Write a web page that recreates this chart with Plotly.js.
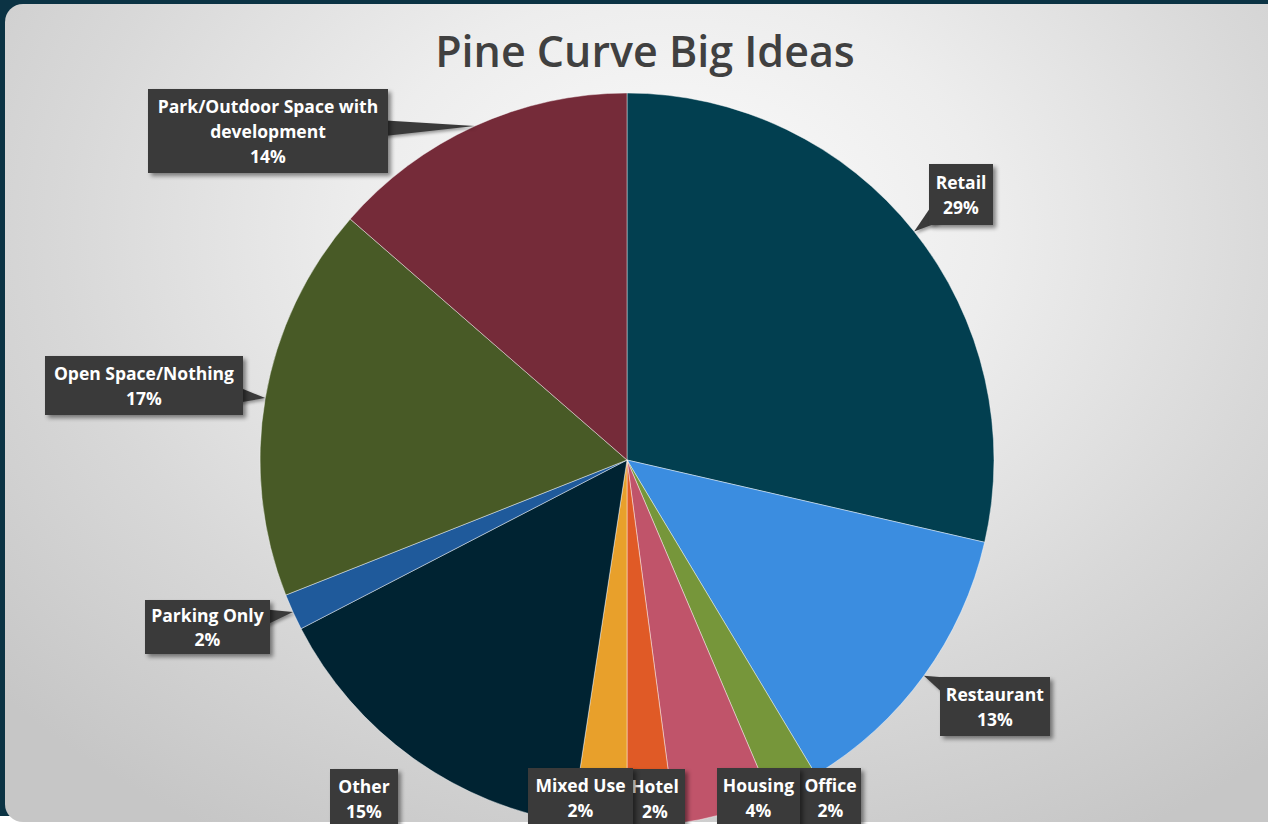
<!DOCTYPE html>
<html><head><meta charset="utf-8">
<script src="https://cdn.plot.ly/plotly-3.0.1.min.js"></script>
<style>
html,body{margin:0;padding:0;width:1268px;height:824px;overflow:hidden;background:#ffffff;}
#frame{position:absolute;left:0;top:0;width:1268px;height:816px;background:#0b3344;}
#panel{position:absolute;left:5px;top:4px;width:1290px;height:818px;border-radius:18px;
  background:radial-gradient(ellipse 70% 85% at 52% 28%, #fcfcfc 0%, #ededed 35%, #d8d8d8 68%, #c6c6c6 100%);}
#chart{position:absolute;left:0;top:0;width:1268px;height:827px;}
.annotation-text-g rect.bg{filter:drop-shadow(3px 3px 2px rgba(0,0,0,0.45));}
.shapelayer path{filter:drop-shadow(2px 2px 1.5px rgba(0,0,0,0.35));}
</style></head>
<body>
<div id="frame"></div>
<div id="panel"></div>
<div id="chart"></div>
<script>
// ---- data ----
const categories = ['Retail','Restaurant','Office','Housing','Hotel','Mixed Use','Other','Parking Only','Open Space/Nothing','Park/Outdoor Space with development'];
const shares = [28.6, 12.8, 2.2, 4.3, 2.1, 2.4, 15.0, 1.6, 17.4, 13.6];
const sliceColors = ['#023f50','#3b8de0','#76963a','#c0546a','#e05a26','#e8a02b','#002332','#1f5a9b','#485a26','#752b39'];

// ---- label layout (px offsets of box centre from slice edge midpoint) ----
const labelDX = [47, 71, 37, 35, 4, -19, -49, -85, -121, -207];
const labelDY = [-37, 31, 11, -16, -28, -28, 40, 15, -13, 5];
const boxW = [64, 110, 61, 83, 60, 105, 68, 125, 198, 240];
const boxH = [61, 59, 59, 59, 59, 59, 59, 54, 59, 84];
const withTail = [true, true, false, false, false, false, false, true, true, true];
const tailHalfWidth = 8;

const W = 1268, H = 827;
const M = {l: 0, r: 14, t: 93, b: 0};
const plotW = W - M.l - M.r, plotH = H - M.t - M.b;
const R = Math.min(plotW, plotH) / 2;
const CX = M.l + plotW / 2, CY = M.t + plotH / 2;
const toPX = px => (px - M.l) / plotW;
const toPY = py => 1 - (py - M.t) / plotH;

function wrap(s) {
  if (s.length <= 24) return [s];
  const cut = s.lastIndexOf(' ', 24);
  return [s.slice(0, cut), s.slice(cut + 1)];
}

const total = shares.reduce((a, b) => a + b, 0);
let cum = 0;
const annotations = [];
const shapes = [];
shares.forEach((v, i) => {
  const mid = (cum + v / 2) / total; cum += v;
  const th = mid * 2 * Math.PI;
  // slice edge midpoint in pixels
  const tipX = CX + R * Math.sin(th);
  const tipY = CY - R * Math.cos(th);
  const bx = tipX + labelDX[i], by = tipY + labelDY[i];
  const pct = Math.round(v / total * 100) + '%';
  const lines = wrap(categories[i]).concat([pct]).map(t => '<span style="font-size:17.5px">' + t + '</span>');
  annotations.push({
    xref: 'paper', yref: 'paper', x: toPX(bx), y: toPY(by),
    xanchor: 'center', yanchor: 'middle', showarrow: false,
    text: lines.join('<br>'),
    font: {family: 'Open Sans', size: 19, color: '#ffffff', weight: 'bold'},
    bgcolor: '#3a3a3a', borderpad: 0, borderwidth: 0,
    width: boxW[i], height: boxH[i], align: 'center', valign: 'middle'
  });
  if (withTail[i]) {
    const dx = tipX - bx, dy = tipY - by;
    const len = Math.hypot(dx, dy);
    const t = Math.min((boxW[i] / 2) / Math.abs(dx || 1e-9), (boxH[i] / 2) / Math.abs(dy || 1e-9));
    const back = 6 / len;
    const ex = bx + dx * (t - back), ey = by + dy * (t - back);
    const nx = -dy / len * tailHalfWidth, ny = dx / len * tailHalfWidth;
    const p1 = [ex + nx, ey + ny], p2 = [ex - nx, ey - ny];
    shapes.push({
      type: 'path', xref: 'paper', yref: 'paper', layer: 'above',
      path: `M ${toPX(p1[0])} ${toPY(p1[1])} L ${toPX(tipX)} ${toPY(tipY)} L ${toPX(p2[0])} ${toPY(p2[1])} Z`,
      fillcolor: '#3a3a3a', line: {width: 0}
    });
  }
});

const trace = {
  type: 'pie',
  labels: categories,
  values: shares,
  sort: false,
  direction: 'clockwise',
  rotation: 0,
  textinfo: 'none',
  hoverinfo: 'none',
  marker: {colors: sliceColors, line: {color: 'rgba(255,255,255,0.55)', width: 0.8}},
  domain: {x: [0, 1], y: [0, 1]},
  showlegend: false
};

const layout = {
  width: W, height: H,
  margin: M,
  paper_bgcolor: 'rgba(0,0,0,0)',
  plot_bgcolor: 'rgba(0,0,0,0)',
  showlegend: false,
  xaxis: {visible: false}, yaxis: {visible: false},
  title: {
    text: 'Pine Curve Big Ideas',
    font: {family: 'Open Sans', size: 43, color: '#404040', weight: 600},
    x: 645 / W, xref: 'container', xanchor: 'center',
    y: 1 - 52 / H, yref: 'container', yanchor: 'middle'
  },
  shapes: shapes,
  annotations: annotations
};

Plotly.newPlot('chart', [trace], layout, {displayModeBar: false, staticPlot: true});
</script>
</body></html>
